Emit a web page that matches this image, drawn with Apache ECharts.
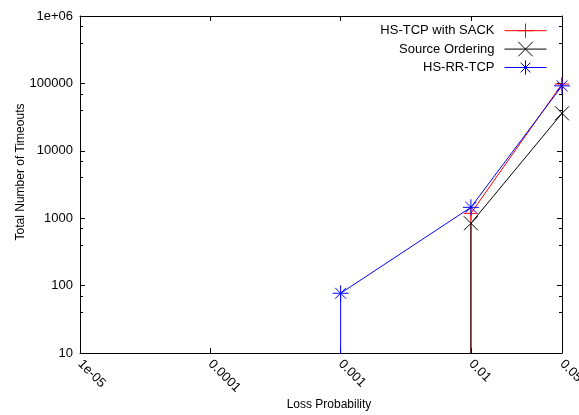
<!DOCTYPE html>
<html>
<head>
<meta charset="utf-8">
<script src="https://cdn.jsdelivr.net/npm/echarts@6/dist/echarts.min.js"></script>
<style>
html,body{margin:0;padding:0;background:#fff;}
#chart{width:579px;height:415px;}
</style>
</head>
<body>
<div id="chart"></div>
<script>
// ---- data ----
const seriesNames = ['HS-TCP with SACK', 'Source Ordering', 'HS-RR-TCP'];
const seriesColors = ['#ff0000', '#000000', '#0000ff'];
// loss probability (x) and total number of timeouts (y); value 1 = zero/below axis floor
const sackX = [0.01, 0.01, 0.05];
const sackY = [1, 1180, 98000];
const orderX = [0.01, 0.01, 0.05];
const orderY = [1, 840, 36000];
const rrX = [0.001, 0.001, 0.01, 0.05];
const rrY = [1, 77, 1450, 92000];
const xTickValues = [1e-5, 1e-4, 1e-3, 1e-2, 0.05];
const xTickLabels = ['1e-05', '0.0001', '0.001', '0.01', '0.05'];
const yTickValues = [10, 100, 1000, 10000, 100000, 1000000];
const yTickLabels = ['10', '100', '1000', '10000', '100000', '1e+06'];

const FONT = 'Liberation Sans, Arial, Helvetica, sans-serif';
const pair = (xs, ys) => xs.map((x, i) => [x, ys[i]]);
function lookup(vals, labels, v) {
  for (let i = 0; i < vals.length; i++) {
    if (Math.abs(Math.log10(v) - Math.log10(vals[i])) < 1e-6) return labels[i];
  }
  return '';
}

const PLUS = 'path://M0,5L10,5M5,0L5,10';
const CROSS = 'path://M0,0L10,10M10,0L0,10';
const STAR = 'path://M0,5L10,5M5,0L5,10M1.6,1.6L8.4,8.4M8.4,1.6L1.6,8.4';

function mkSeries(name, data, color, symbol, size) {
  return {
    name: name,
    type: 'line',
    data: data,
    xAxisIndex: 0,
    yAxisIndex: 0,
    symbol: symbol,
    symbolSize: size,
    showAllSymbol: true,
    clip: true,
    lineStyle: { color: color, width: 1 },
    itemStyle: { color: color, borderColor: color, borderWidth: 1 },
    emphasis: { disabled: true }
  };
}

const chart = echarts.init(document.getElementById('chart'), null, { renderer: 'canvas' });
const axisCommon = {
  type: 'log',
  logBase: 10,
  axisLine: { show: true, onZero: false, lineStyle: { color: '#000', width: 1 } },
  splitLine: { show: false },
  minorSplitLine: { show: false }
};

chart.setOption({
  animation: false,
  backgroundColor: '#fff',
  textStyle: { fontFamily: FONT },
  grid: { left: 80, right: 17, top: 16, bottom: 62, containLabel: false, outerBoundsMode: 'none' },
  legend: {
    orient: 'vertical',
    align: 'right',
    right: 32,
    top: 23,
    padding: 0,
    itemWidth: 42,
    itemHeight: 18,
    itemGap: 3,
    data: seriesNames.map((n, i) => ({
      name: n,
      itemStyle: { color: seriesColors[i], borderColor: seriesColors[i], borderWidth: 1 },
      lineStyle: { color: seriesColors[i], width: 1 }
    })),
    textStyle: { fontSize: 13, color: '#000', fontFamily: FONT, padding: [0, 5, 0, 0] }
  },
  xAxis: [
    Object.assign({}, axisCommon, {
      position: 'bottom',
      min: xTickValues[0],
      max: xTickValues[xTickValues.length - 1],
      axisTick: { show: true, inside: true, length: 5, lineStyle: { color: '#000' } },
      minorTick: { show: false },
      axisLabel: {
        show: true, rotate: -45, margin: 9, fontSize: 13, color: '#000', fontFamily: FONT,
        showMinLabel: true, showMaxLabel: true, hideOverlap: false,
        formatter: v => lookup(xTickValues, xTickLabels, v)
      },
      name: 'Loss Probability',
      nameLocation: 'middle',
      nameGap: 46,
      nameMoveOverlap: false,
      nameTextStyle: { fontSize: 12, color: '#000', fontFamily: FONT, padding: [0, 0, 0, 16] }
    }),
    Object.assign({}, axisCommon, {
      position: 'top',
      min: xTickValues[0],
      max: xTickValues[xTickValues.length - 1],
      axisTick: { show: true, inside: true, length: 5, lineStyle: { color: '#000' } },
      minorTick: { show: false },
      axisLabel: { show: false }
    })
  ],
  yAxis: [
    Object.assign({}, axisCommon, {
      position: 'left',
      min: yTickValues[0],
      max: yTickValues[yTickValues.length - 1],
      axisTick: { show: true, inside: true, length: 5, lineStyle: { color: '#000' } },
      minorTick: { show: true, splitNumber: 3, length: 3, lineStyle: { color: '#000' } },
      axisLabel: {
        show: true, margin: 7, fontSize: 13, color: '#000', fontFamily: FONT,
        formatter: v => lookup(yTickValues, yTickLabels, v)
      },
      name: 'Total Number of Timeouts',
      nameLocation: 'middle',
      nameGap: 53,
      nameMoveOverlap: false,
      nameTextStyle: { fontSize: 12, color: '#000', fontFamily: FONT, padding: [0, 0, 0, 25] }
    }),
    Object.assign({}, axisCommon, {
      position: 'right',
      min: yTickValues[0],
      max: yTickValues[yTickValues.length - 1],
      axisTick: { show: true, inside: true, length: 5, lineStyle: { color: '#000' } },
      minorTick: { show: true, splitNumber: 3, length: 3, lineStyle: { color: '#000' } },
      axisLabel: { show: false }
    })
  ],
  series: [
    mkSeries(seriesNames[0], pair(sackX, sackY), seriesColors[0], PLUS, 14),
    mkSeries(seriesNames[1], pair(orderX, orderY), seriesColors[1], CROSS, 14),
    mkSeries(seriesNames[2], pair(rrX, rrY), seriesColors[2], STAR, 16)
  ]
});
</script>
</body>
</html>
